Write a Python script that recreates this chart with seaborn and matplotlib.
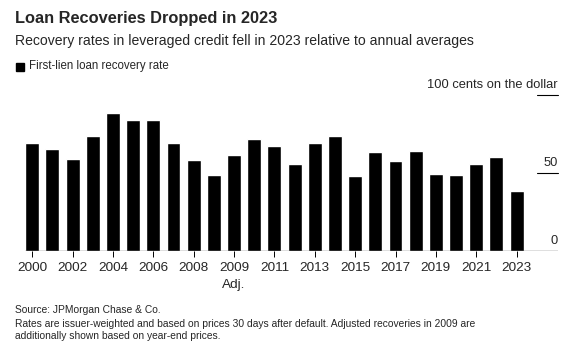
import matplotlib
matplotlib.use('Agg')
import matplotlib.pyplot as plt
import matplotlib.transforms as mtransforms
import seaborn as sns

# Data
years = ["2000", "2001", "2002", "2003", "2004", "2005", "2006", "2007", "2008", "2009",
         "2009 Adj.", "2010", "2011", "2012", "2013", "2014", "2015", "2016", "2017", "2018",
         "2019", "2020", "2021", "2022", "2023"]
recovery = [69.1, 65.2, 59.0, 73.8, 88.2, 84.1, 83.9, 68.9, 58.4, 48.5,
            61.6, 71.5, 67.2, 55.4, 69.1, 73.6, 48.3, 63.1, 57.7, 63.9,
            49.1, 48.5, 55.8, 60.1, 38.4]
shown_ticks = ["2000", "2002", "2004", "2006", "2008", "2009\nAdj.", "2011", "2013",
               "2015", "2017", "2019", "2021", "2023"]
y_labels = ["0", "50", "100 cents on the dollar"]
y_values = [0, 50, 100]

sns.set_style("white")
plt.rcParams['font.family'] = ['Liberation Sans', 'DejaVu Sans']

fig = plt.figure(figsize=(5.8, 3.54), dpi=100)
ax = fig.add_axes([0.0431, 0.291, 0.962 - 0.0431, 0.732 - 0.291])

sns.barplot(x=years, y=recovery, color='black', saturation=1, width=0.69, ax=ax)

ax.set_xlim(-0.36, 26.05)
ax.set_ylim(0, 100)
sns.despine(ax=ax, left=True, bottom=True)

# x ticks every other bar
ax.set_xticks(range(0, len(years), 2))
ax.set_xticklabels(shown_ticks, fontsize=9.7, linespacing=1.5)
ax.tick_params(axis='x', length=4, width=0.7, color='black', pad=4, direction='out',
               bottom=True)
ax.set_yticks([])

# baseline and short right-side gridlines
ax.axhline(0, color='black', lw=0.9)
xfrac = (25.0 + 0.36) / (26.05 + 0.36)
for v in y_values[1:]:
    ax.axhline(v, xmin=xfrac, xmax=1, color='black', lw=0.8, clip_on=False)

trans = mtransforms.blended_transform_factory(ax.transAxes, ax.transData)
for v, lab in zip(y_values, y_labels):
    ax.annotate(lab, xy=(1, v), xycoords=trans, xytext=(0, 3), textcoords='offset points',
                ha='right', va='bottom', fontsize=9.3)

# titles and legend
fig.text(0.026, 1 - 18 / 354, "Loan Recoveries Dropped in 2023", fontsize=11.8, fontweight='bold',
         va='center', ha='left')
fig.text(0.026, 1 - 41 / 354, "Recovery rates in leveraged credit fell in 2023 relative to annual averages",
         fontsize=10.1, va='center', ha='left')
fig.patches.append(plt.Rectangle((16 / 580, 1 - 71 / 354), 8 / 580, 8 / 354,
                                 transform=fig.transFigure, color='black', figure=fig))
fig.text(29 / 580, 1 - 66 / 354, "First-lien loan recovery rate", fontsize=8.3,
         va='center', ha='left')

# footer
fig.text(0.026, 1 - 310 / 354, "Source: JPMorgan Chase & Co.", fontsize=7.4, va='center')
fig.text(0.026, 1 - 330 / 354,
         "Rates are issuer-weighted and based on prices 30 days after default. Adjusted recoveries in 2009 are\n"
         "additionally shown based on year-end prices.",
         fontsize=7.4, va='center', linespacing=1.25)

fig.savefig("out.png", dpi=100)
